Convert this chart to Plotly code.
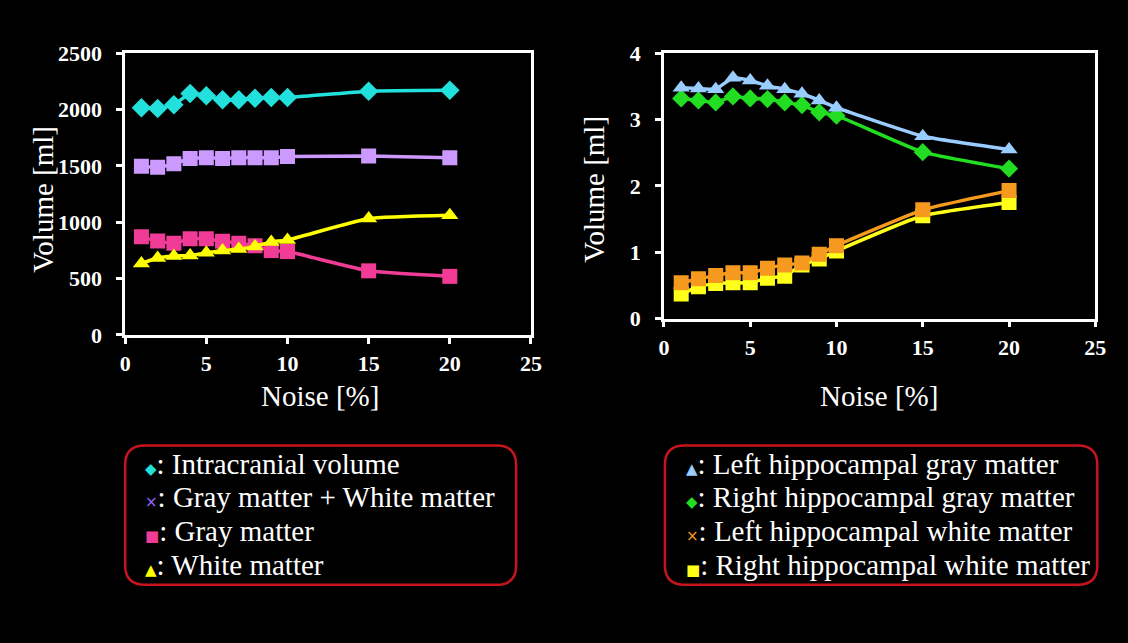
import plotly.graph_objects as go

W, H = 1128, 643

noise = [1, 2, 3, 4, 5, 6, 7, 8, 9, 10, 15, 20]

# Left panel (ml)
icv = [2016, 2010, 2044, 2144, 2124, 2087, 2087, 2101, 2107, 2107, 2164, 2172]
gm_wm = [1497, 1489, 1520, 1566, 1574, 1566, 1574, 1574, 1574, 1583, 1589, 1574]
gm = [871, 834, 814, 854, 854, 831, 814, 791, 749, 740, 569, 520]
wm = [635, 683, 700, 706, 729, 749, 763, 786, 826, 843, 1033, 1062]

# Right panel (ml)
l_hip_gm = [3.48, 3.47, 3.46, 3.63, 3.59, 3.51, 3.46, 3.39, 3.29, 3.18, 2.75, 2.55]
r_hip_gm = [3.32, 3.29, 3.26, 3.35, 3.32, 3.31, 3.26, 3.22, 3.11, 3.06, 2.51, 2.26]
l_hip_wm = [0.54, 0.60, 0.65, 0.69, 0.69, 0.76, 0.81, 0.84, 0.97, 1.10, 1.64, 1.93]
r_hip_wm = [0.37, 0.48, 0.53, 0.54, 0.54, 0.61, 0.64, 0.81, 0.90, 1.02, 1.55, 1.75]

left_names = ["Intracranial volume", "Gray matter + White matter", "Gray matter", "White matter"]
right_names = ["Left hippocampal gray matter", "Right hippocampal gray matter",
               "Left hippocampal white matter", "Right hippocampal white matter"]
left_legend_glyphs = ["◆", "×", "■", "▲"]
right_legend_glyphs = ["▲", "◆", "×", "■"]

x_ticks = [0, 5, 10, 15, 20, 25]
left_ticks_y = [0, 500, 1000, 1500, 2000, 2500]
right_ticks_y = [0, 1, 2, 3, 4]

C_CYAN = "#22E0DC"
C_PURPLE = "#CC99FF"
C_PINK = "#F03C96"
C_YELLOW = "#FFFF00"
C_LBLUE = "#99CCFF"
C_GREEN = "#22DD22"
C_ORANGE = "#F59A1E"
C_YELLOW2 = "#FFFF1A"

left_series = [(icv, C_CYAN, "diamond", 15), (gm_wm, C_PURPLE, "square", 15),
               (gm, C_PINK, "square", 15), (wm, C_YELLOW, "triangle-up", 15)]
right_series = [(l_hip_gm, C_LBLUE, "triangle-up", 15), (r_hip_gm, C_GREEN, "diamond", 14),
                (l_hip_wm, C_ORANGE, "square", 15), (r_hip_wm, C_YELLOW2, "square", 15)]
left_leg_colors = [C_CYAN, "#9966FF", C_PINK, C_YELLOW]
right_leg_colors = [C_LBLUE, C_GREEN, C_ORANGE, C_YELLOW2]

fig = go.Figure()

for (vals, col, sym, sz), name in zip(left_series, left_names):
    fig.add_trace(go.Scatter(x=noise, y=vals, mode="lines+markers", name=name,
                             line=dict(color=col, width=3.5, shape="spline", smoothing=0.4),
                             marker=dict(color=col, symbol=sym, size=sz),
                             xaxis="x", yaxis="y", showlegend=False))
order = [3, 2, 1, 0]
for i in order:
    vals, col, sym, sz = right_series[i]
    fig.add_trace(go.Scatter(x=noise, y=vals, mode="lines+markers", name=right_names[i],
                             line=dict(color=col, width=3.5, shape="spline", smoothing=0.4),
                             marker=dict(color=col, symbol=sym, size=sz),
                             xaxis="x2", yaxis="y2", showlegend=False))


def ax_common(standoff):
    return dict(showline=True, linecolor="white", linewidth=2.5, mirror=True,
                ticks="outside", tickcolor="white", tickwidth=2.5, ticklen=6,
                showgrid=False, zeroline=False, ticklabelstandoff=standoff,
                tickfont=dict(family="Liberation Serif", size=22, color="white", weight="bold"))


def px(x):
    return x / W


def py(y):
    return 1 - y / H


fig.update_layout(
    width=W, height=H,
    margin=dict(l=0, r=0, t=0, b=0),
    paper_bgcolor="black", plot_bgcolor="black",
    xaxis=dict(domain=[px(121), px(533)], range=[0, 25], tickvals=x_ticks,
               anchor="y", **ax_common(1)),
    yaxis=dict(domain=[py(336), py(43)], range=[0, 2500], tickvals=left_ticks_y,
               anchor="x", **ax_common(10)),
    xaxis2=dict(domain=[px(668), px(1106)], range=[0, 25], tickvals=x_ticks,
                anchor="y2", **ax_common(1)),
    yaxis2=dict(domain=[py(319), py(43)], range=[0, 4], tickvals=right_ticks_y,
                anchor="x2", **ax_common(10)),
)

titlefont = dict(family="Liberation Serif", size=29, color="white")
annos = [
    dict(x=px(319), y=py(400), text="Noise [%]"),
    dict(x=px(886), y=py(400), text="Noise [%]"),
    dict(x=px(38), y=py(195), text="Volume [ml]", textangle=-90),
    dict(x=px(597), y=py(185), text="Volume [ml]", textangle=-90),
]
for a in annos:
    fig.add_annotation(xref="paper", yref="paper", showarrow=False, font=titlefont,
                       xanchor="center", yanchor="middle", **a)


def rounded_rect(x0, y0, x1, y1, r):
    def P(x, y):
        return f"{px(x):.5f},{py(y):.5f}"
    return (f"M {P(x0 + r, y0)} L {P(x1 - r, y0)} Q {P(x1, y0)} {P(x1, y0 + r)} "
            f"L {P(x1, y1 - r)} Q {P(x1, y1)} {P(x1 - r, y1)} "
            f"L {P(x0 + r, y1)} Q {P(x0, y1)} {P(x0, y1 - r)} "
            f"L {P(x0, y0 + r)} Q {P(x0, y0)} {P(x0 + r, y0)} Z")


for (x0, x1) in [(121, 518), (669, 1108)]:
    fig.add_shape(type="path", xref="paper", yref="paper",
                  path=rounded_rect(x0, 451, x1, 596, 20),
                  line=dict(color="#C8141E", width=2.5))

legfont = dict(family="Liberation Serif", size=29, color="white")
line_y = [470, 505, 540, 575]
for names, glyphs, cols, x0 in [(left_names, left_legend_glyphs, left_leg_colors, 139),
                                (right_names, right_legend_glyphs, right_leg_colors, 688)]:
    for name, g, c, yy in zip(names, glyphs, cols, line_y):
        fig.add_annotation(xref="paper", yref="paper", showarrow=False,
                           x=px(x0), y=py(yy), xanchor="left", yanchor="middle",
                           text=f"<span style='color:{c};font-size:15px;font-family:DejaVu Sans'>{g}</span>: {name}",
                           font=legfont)

fig.write_html("out.html")
